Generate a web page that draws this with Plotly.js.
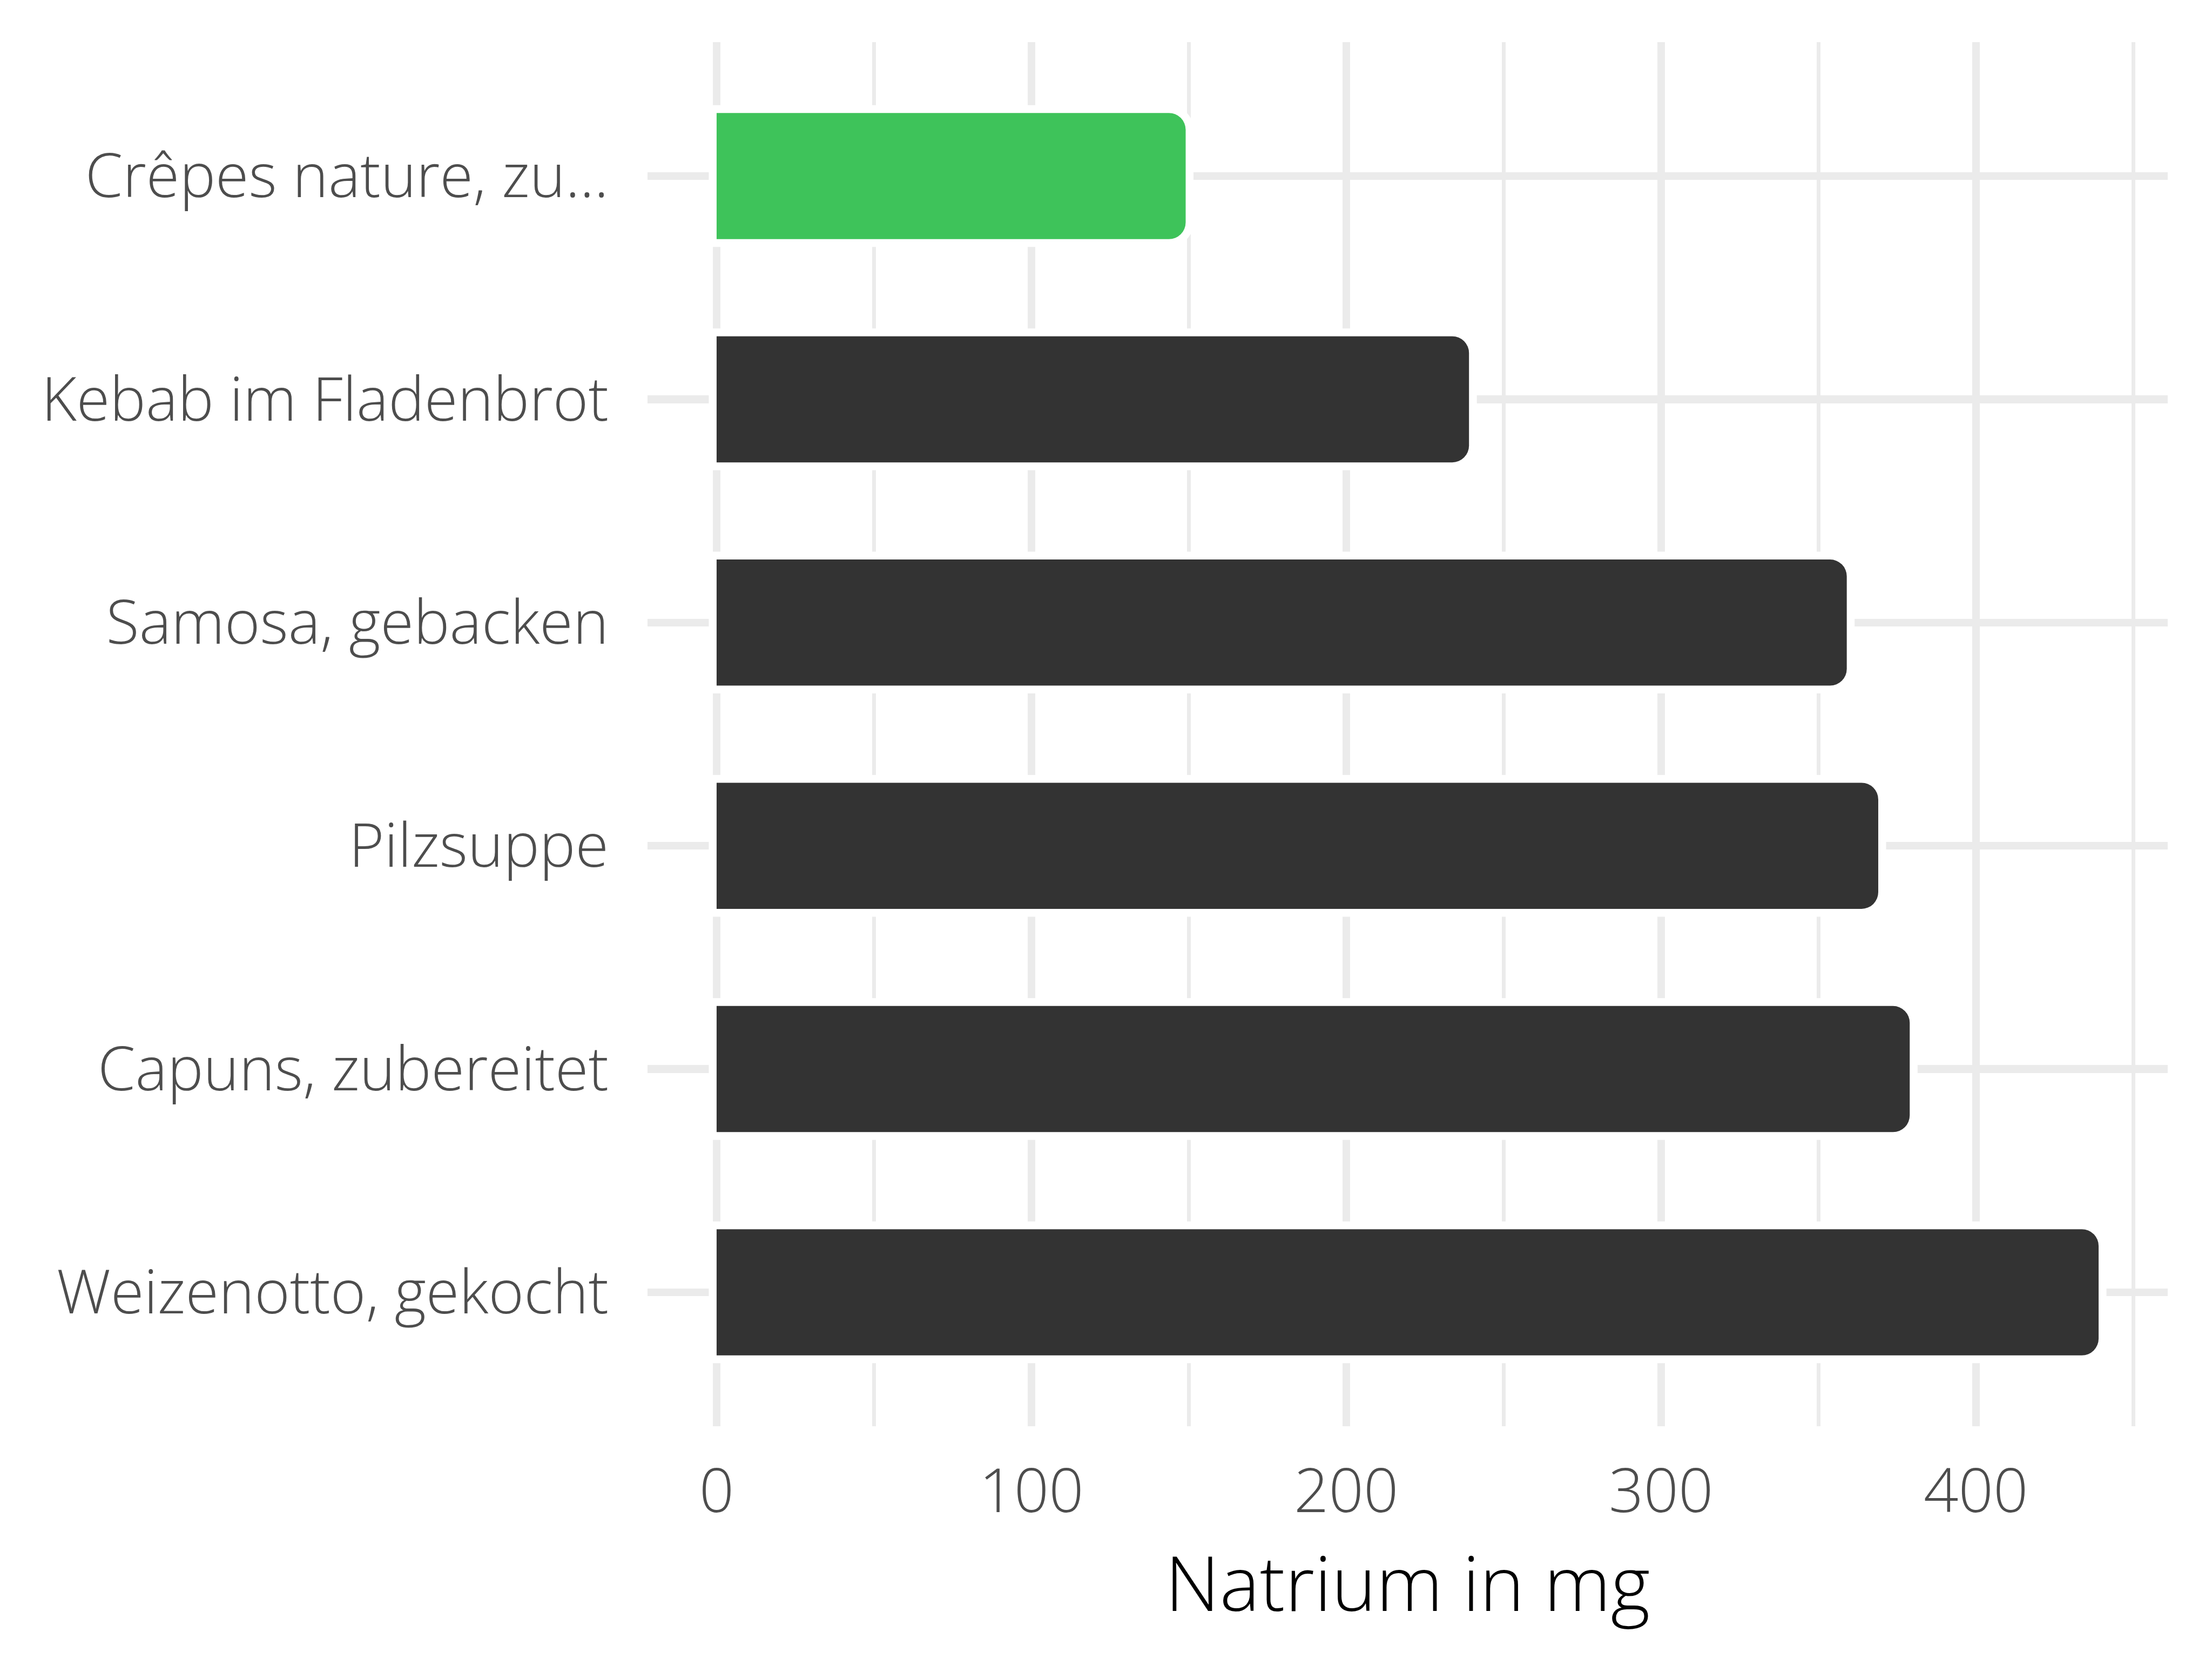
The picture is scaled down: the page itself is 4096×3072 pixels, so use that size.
<!DOCTYPE html>
<html>
<head>
<meta charset="utf-8">
<script src="https://cdn.plot.ly/plotly-3.0.1.min.js"></script>
<style>
  html, body { margin: 0; padding: 0; background: #ffffff; }
  #chart { width: 4096px; height: 3072px; }
</style>
</head>
<body>
<div id="chart"></div>
<script>
// Data (top to bottom as in the chart)
const categories = [
  "Crêpes nature, zu...",
  "Kebab im Fladenbrot",
  "Samosa, gebacken",
  "Pilzsuppe",
  "Capuns, zubereitet",
  "Weizenotto, gekocht"
];
const natriumMg = [149, 239, 359, 369, 379, 439];
const barColors = ["#3EC35A", "#333333", "#333333", "#333333", "#333333", "#333333"];
const xTickValues = [0, 100, 200, 300, 400];
const xTickLabels = ["0", "100", "200", "300", "400"];
const xAxisTitle = "Natrium in mg";

const maxVal = Math.max.apply(null, natriumMg);
const pad = maxVal * 0.05;

const gridColor = "#EBEBEB";
const fontFamily = "'Open Sans', 'Noto Sans', sans-serif";

// white halo behind each bar (gridlines are interrupted around bars)
const halo = {
  type: "bar",
  orientation: "h",
  y: categories,
  x: natriumMg,
  width: 0.565,
  marker: {
    color: "#ffffff",
    line: { color: "#ffffff", width: 29 },
    cornerradius: 31
  },
  hoverinfo: "skip",
  showlegend: false
};

const bars = {
  type: "bar",
  orientation: "h",
  y: categories,
  x: natriumMg,
  width: 0.565,
  marker: {
    color: barColors,
    line: { width: 0 },
    cornerradius: 31
  },
  showlegend: false
};

const layout = {
  width: 4096,
  height: 3072,
  paper_bgcolor: "#ffffff",
  plot_bgcolor: "#ffffff",
  barmode: "overlay",
  showlegend: false,
  margin: { l: 1199, r: 82, t: 78, b: 431, pad: 0 },
  font: { family: fontFamily, color: "#4D4D4D" },
  xaxis: {
    range: [-pad, maxVal + pad],
    tickvals: xTickValues,
    ticktext: xTickLabels,
    showgrid: true,
    gridcolor: gridColor,
    gridwidth: 14,
    minor: { dtick: 50, showgrid: true, gridcolor: gridColor, gridwidth: 7 },
    zeroline: false,
    showline: false,
    ticks: "",
    ticklabelstandoff: 45,
    tickfont: { family: fontFamily, size: 113, color: "#4D4D4D", weight: 300 },
    title: {
      text: xAxisTitle,
      font: { family: fontFamily, size: 140, color: "#000000", weight: 300 },
      standoff: 0
    },
    automargin: true,
    fixedrange: true
  },
  yaxis: {
    type: "category",
    categoryorder: "array",
    categoryarray: categories,
    range: [5.6, -0.6],
    showgrid: true,
    gridcolor: gridColor,
    gridwidth: 14.5,
    zeroline: false,
    showline: false,
    ticks: "",
    ticklabelstandoff: 71,
    tickfont: { family: fontFamily, size: 112, color: "#4D4D4D", weight: 300 },
    automargin: false,
    fixedrange: true
  }
};

Plotly.newPlot("chart", [halo, bars], layout, { staticPlot: true, displayModeBar: false });
</script>
</body>
</html>
